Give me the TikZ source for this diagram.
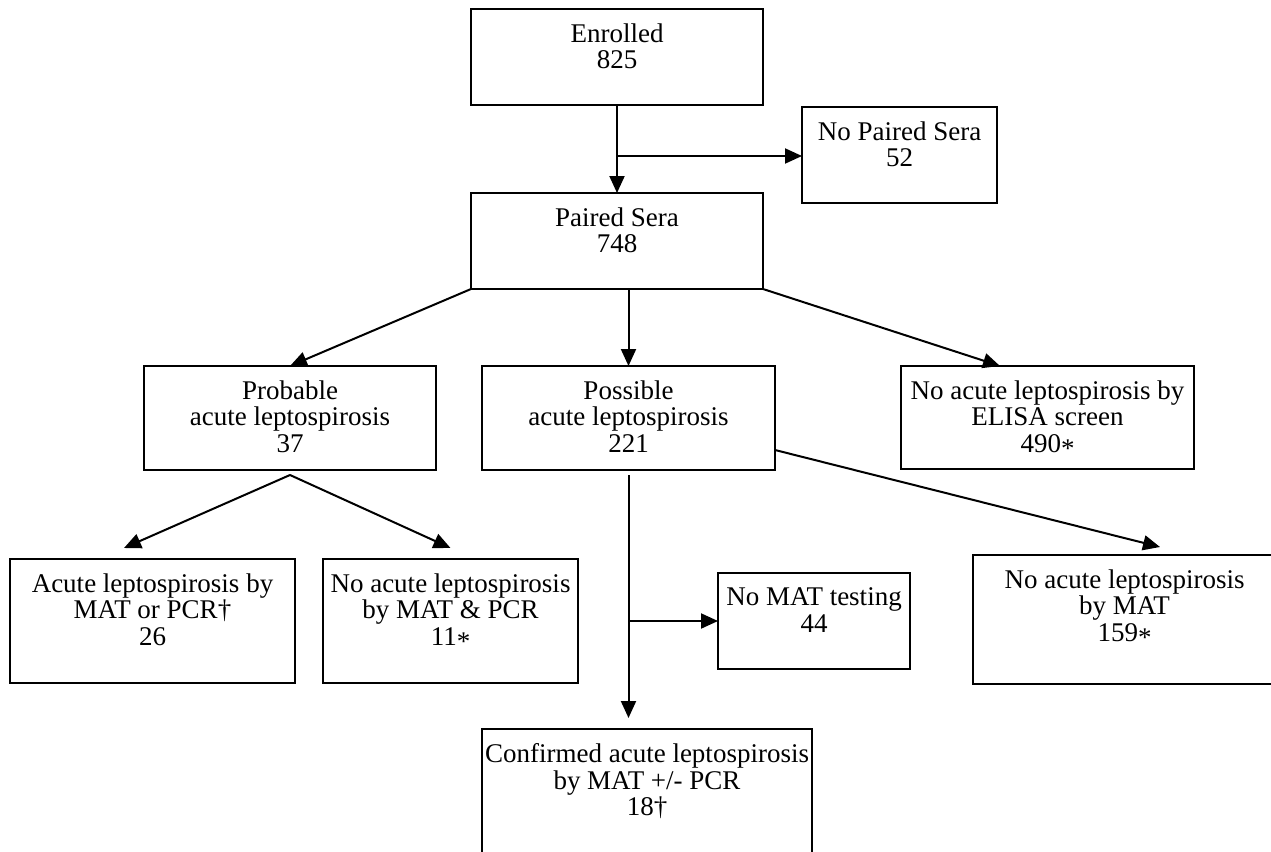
\documentclass[tikz,border=0pt]{standalone}
\usepackage{fontspec}
\setmainfont{Liberation Serif}
\usetikzlibrary{arrows.meta}
\newcommand\myast{\raisebox{-0.18em}{*}}
\newcommand\mybox[6]{%
  \node[box, minimum width={#4-#2}, minimum height={#5-#3}] (#1) at (#2,#3) {};
  \node[txt] (#1t) at ([yshift=-14.5pt]#1.north) {#6};}
\begin{document}
\begin{tikzpicture}[x=1pt,y=-1pt,
  box/.style={draw, line width=2pt, inner sep=0pt, outer sep=0pt, anchor=north west},
  txt/.style={anchor=north, align=center, inner sep=0pt, font=\fontsize{27}{26.5}\selectfont},
  arr/.style={line width=2pt, -{Triangle[length=17pt,width=15pt]}}]
\useasboundingbox (0,0) rectangle (1271,851);
\clip (0,0) rectangle (1271,851);
\mybox{enr}{471}{9}{763}{105}{Enrolled\\825}
\mybox{nps}{802}{107}{997}{203}{No Paired Sera\\52}
\mybox{ps}{471}{193}{763}{289}{Paired Sera\\748}
\mybox{prob}{144}{366}{436}{470}{Probable\\acute leptospirosis\\37}
\mybox{poss}{482}{366}{775}{470}{Possible\\acute leptospirosis\\221}
\mybox{elisa}{901}{366}{1194}{469}{No acute leptospirosis by\\ELISA screen\\490\myast}
\mybox{acute}{10}{559}{295}{683}{Acute leptospirosis by\\MAT or PCR†\\26}
\mybox{noac}{323}{559}{578}{683}{No acute leptospirosis\\by MAT \& PCR\\11\myast}
\mybox{nomat}{718}{573}{910}{669}{No MAT testing\\44}
\mybox{nomatb}{973}{555}{1276}{684}{No acute leptospirosis\\by MAT\\159\myast}
\mybox{conf}{482}{729}{812}{880}{Confirmed acute leptospirosis\\by MAT +/- PCR\\18†}
% connectors
\draw[arr] (enr.south) -- (ps.north);
\path (enr.south) ++(0,51) coordinate (b1);
\draw[arr] (b1) -- (b1 -| nps.west);
\draw[arr] (ps.south west) -- (prob.north);
\draw[arr] (poss.north |- ps.south) -- (poss.north);
\path (elisa.north west) ++(99,0) coordinate (etip);
\draw[arr] (ps.south east) -- (etip);
\path (prob.south) ++(0,5) coordinate (apex);
\path (acute.north west) ++(114,-11) coordinate (tA);
\path (noac.north) ++(0,-11) coordinate (tB);
\draw[arr] (apex) -- (tA);
\draw[arr] (apex) -- (tB);
\path (poss.south) ++(0,5) coordinate (pv);
\path (pv |- conf.north) ++(0,-11) coordinate (pend);
\draw[arr] (pv) -- (pend);
\path (pv |- nomat.west) coordinate (b2);
\draw[arr] (b2) -- (nomat.west);
\path (poss.south east) ++(0,-20) coordinate (pr);
\path (nomatb.north west) ++(187,-8) coordinate (t159);
\draw[arr] (pr) -- (t159);
\end{tikzpicture}
\end{document}
